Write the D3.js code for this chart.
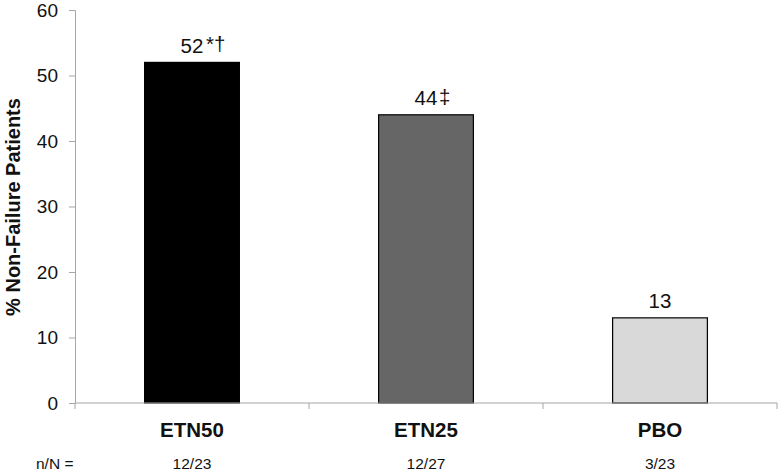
<!DOCTYPE html>
<html>
<head>
<meta charset="utf-8">
<script src="https://cdn.jsdelivr.net/npm/d3@7"></script>
<style>
  body { margin: 0; background: #fff; }
  text { font-family: "Liberation Sans", Arial, sans-serif; }
</style>
</head>
<body>
<svg id="chart" width="780" height="474"></svg>
<script>
// chart data
const groups = ["ETN50", "ETN25", "PBO"];
const values = [52, 44, 13];
const valueMarks = ["*†", "‡", ""];
const ratios = ["12/23", "12/27", "3/23"];
const barColors = ["#000000", "#666666", "#d9d9d9"];
const yTicks = [0, 10, 20, 30, 40, 50, 60];

const svg = d3.select("#chart");
const margin = { left: 75, right: 3, top: 10, bottom: 71 };
const width = 780 - margin.left - margin.right;
const height = 474 - margin.top - margin.bottom;

const g = svg.append("g").attr("transform", `translate(${margin.left},${margin.top})`);

const x = d3.scaleBand().domain(groups).range([0, width]);
const y = d3.scaleLinear().domain([0, 60]).range([height, 0]);
const barW = x.bandwidth() * 0.405;

// y axis
const yAxis = g.append("g").call(d3.axisLeft(y).tickValues(yTicks).tickSize(6).tickPadding(11));
yAxis.select(".domain").attr("stroke", "#a6a6a6");
yAxis.selectAll(".tick line").attr("stroke", "#a6a6a6");
yAxis.selectAll("text").attr("font-size", 19).attr("fill", "#111");

// bars
g.selectAll(".bar")
    .data(groups)
    .enter().append("rect")
    .attr("class", "bar")
    .attr("x", d => x(d) + x.bandwidth() / 2 - barW / 2)
    .attr("y", (d, i) => y(values[i]))
    .attr("width", barW)
    .attr("height", (d, i) => height - y(values[i]))
    .attr("fill", (d, i) => barColors[i])
    .attr("stroke", "#000")
    .attr("stroke-width", 1.2);

// x axis with ticks at band edges
const xAxis = g.append("g").attr("transform", `translate(0,${height})`);
xAxis.append("line").attr("x1", 0).attr("x2", width).attr("stroke", "#a6a6a6");
const edges = groups.map(d => x(d)).concat([width]);
xAxis.selectAll(".edge")
    .data(edges)
    .enter().append("line")
    .attr("class", "edge")
    .attr("x1", d => d).attr("x2", d => d)
    .attr("y1", 0).attr("y2", 6)
    .attr("stroke", "#a6a6a6");

// category labels
g.selectAll(".cat")
    .data(groups)
    .enter().append("text")
    .attr("class", "cat")
    .attr("x", d => x(d) + x.bandwidth() / 2)
    .attr("y", height + 34)
    .attr("text-anchor", "middle")
    .attr("font-size", 20.5)
    .attr("font-weight", "bold")
    .attr("fill", "#111")
    .text(d => d);

// value labels: number centred over the bar, marks trailing
g.selectAll(".val")
    .data(groups)
    .enter().append("text")
    .attr("class", "val")
    .attr("x", d => x(d) + x.bandwidth() / 2)
    .attr("y", (d, i) => y(values[i]) - 9.5)
    .attr("text-anchor", "middle")
    .attr("font-size", 20.5)
    .attr("fill", "#111")
    .text((d, i) => values[i]);

g.selectAll(".mark")
    .data(groups)
    .enter().append("text")
    .attr("class", "mark")
    .attr("x", (d, i) => x(d) + x.bandwidth() / 2 + (valueMarks[i].startsWith("*") ? 14 : 13))
    .attr("y", (d, i) => y(values[i]) - 11)
    .attr("font-size", 20.5)
    .attr("fill", "#111")
    .text((d, i) => valueMarks[i]);

// n/N row
svg.append("text")
    .attr("x", 36).attr("y", 469)
    .attr("font-size", 15.5).attr("fill", "#111")
    .text("n/N =");
g.selectAll(".ratio")
    .data(groups)
    .enter().append("text")
    .attr("class", "ratio")
    .attr("x", d => x(d) + x.bandwidth() / 2)
    .attr("y", 469 - margin.top)
    .attr("text-anchor", "middle")
    .attr("font-size", 15.5)
    .attr("fill", "#111")
    .text((d, i) => ratios[i]);

// y axis title
svg.append("text")
    .attr("transform", `translate(20,${margin.top + 197}) rotate(-90)`)
    .attr("text-anchor", "middle")
    .attr("font-size", 20)
    .attr("font-weight", "bold")
    .attr("fill", "#111")
    .text("% Non-Failure Patients");
</script>
</body>
</html>
